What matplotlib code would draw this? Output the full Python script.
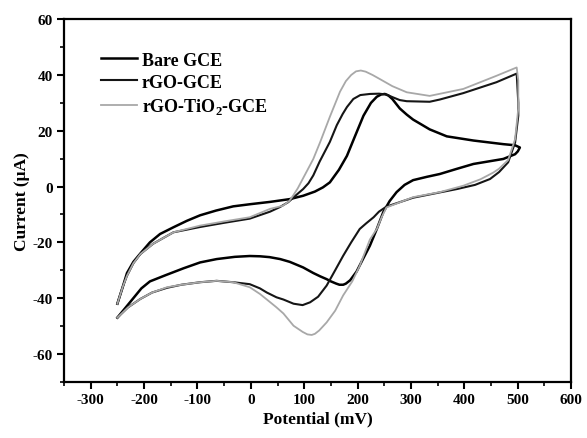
import matplotlib
matplotlib.use("Agg")
import matplotlib.pyplot as plt
import numpy as np
from matplotlib.ticker import MultipleLocator

plt.rcParams['font.family'] = ['Liberation Serif', 'DejaVu Serif']
plt.rcParams['font.weight'] = 'bold'
plt.rcParams['axes.unicode_minus'] = False

# cyclic voltammograms (potential mV, current uA), in scan order
bare_v = [-250, -240, -232, -220, -207, -189, -170, -145, -120, -95, -65, -33, 0, 36, 73, 98,
          120, 135, 148, 165, 180, 195, 211, 225, 236, 244, 251, 258, 265, 279, 292, 304, 320,
          335, 367, 417, 473, 495, 504,
          500, 495, 473, 417, 385, 354, 330, 304, 288, 273, 260, 248, 236, 223, 210, 198, 186,
          178, 173, 166, 160, 150, 142, 130, 117, 98, 73, 55, 35, 17, -2, -30, -64, -95, -126,
          -160, -189, -205, -220, -235, -250]
bare_i = [-42, -36, -31, -27, -24, -20, -17, -14.6, -12.3, -10.3, -8.6, -7.1, -6.3, -5.5,
          -4.5, -3.3, -1.8, -0.3, 1.5, 6, 11, 18, 25.4, 30, 32.2, 33, 33.2, 32.6, 31.4, 28,
          25.8, 24, 22.2, 20.5, 18, 16.5, 15.2, 14.8, 14,
          12.6, 11.6, 9.9, 8.1, 6.3, 4.5, 3.5, 2.3, 0.6, -2, -5.2, -9.2, -15.2, -21.2, -26,
          -30.5, -33.6, -34.8, -35.2, -35.2, -34.8, -34, -33.2, -32.2, -31, -29, -27, -26,
          -25.3, -25, -24.9, -25.2, -26, -27.2, -29.3, -31.8, -34, -36.5, -40, -43.5, -47]

rgo_v = [-250, -240, -232, -220, -207, -183, -145, -95, -50, -2, 36, 55, 70, 80, 90, 98, 108,
         117, 129, 148, 161, 172, 180, 192, 205, 223, 240, 254, 266, 279, 292, 335, 354, 398,
         460, 498,
         501, 501, 495, 482, 465, 448, 420, 386, 354, 304, 254, 240, 230, 216, 204, 188, 173,
         158, 142, 126, 111, 97, 80, 61, 48, 30, 17, -2, -33, -64, -95, -130, -157, -185, -207,
         -230, -250]
rgo_i = [-42, -36, -32, -27.5, -24.2, -20.5, -16.4, -14.5, -13, -11.5, -9, -7.3, -5.6, -3.9,
         -2.2, -0.9, 1.2, 4, 9, 16, 22, 26, 28.5, 31.4, 32.8, 33.2, 33.3, 33, 32, 31, 30.6,
         30.4, 31.2, 33.5, 37.4, 40.5,
         30, 25.4, 15.8, 8.7, 5.2, 2.7, 0.6, -0.9, -2.1, -4, -7.2, -9, -11, -13.2, -15.2, -20,
         -24.8, -30, -35.5, -39.5, -41.5, -42.5, -42, -40.5, -39.7, -38, -36.5, -35, -34.3,
         -33.8, -34.3, -35.2, -36.3, -38, -40.3, -43.3, -47]

tio2_v = [-250, -240, -232, -220, -207, -183, -145, -95, -50, -2, 36, 60, 72, 80, 88, 96,
          106, 117, 130, 148, 167, 178, 188, 197, 206, 215, 228, 242, 265, 292, 335, 398, 460,
          498,
          501, 501, 495, 482, 465, 454, 430, 398, 354, 304, 254, 245, 236, 223, 204, 190, 173,
          158, 142, 128, 120, 114, 106, 97, 80, 61, 48, 30, 17, -2, -33, -64, -95, -130, -157,
          -185, -207, -230, -250]
tio2_i = [-42, -36, -32, -27.5, -24.2, -20.5, -16.4, -14, -12.5, -11, -8, -6.9, -5.2, -3,
          -0.6, 2.3, 5.9, 9.9, 16, 25, 34, 37.8, 40, 41.3, 41.6, 41.2, 40, 38.5, 36, 33.8, 32.5,
          35, 39.7, 42.7,
          38, 28, 17, 9.5, 6.4, 5, 2.6, 0.3, -2, -3.8, -7.5, -11, -15.2, -19, -28.4, -34, -39,
          -44.5, -48.7, -51.6, -52.8, -53.2, -53, -52.1, -49.9, -45.5, -43.3, -40.5, -38.5,
          -36.1, -34.3, -33.8, -34.3, -35.2, -36.1, -38, -40.3, -43.3, -47]

fig = plt.figure(figsize=(5.87, 4.39), dpi=100)
ax = fig.add_axes([0.109, 0.128, 0.864, 0.826])

ax.plot(bare_v, bare_i, color='black', lw=1.8, label='Bare GCE')
ax.plot(rgo_v, rgo_i, color='#151515', lw=1.5, label='rGO-GCE')
ax.plot(tio2_v, tio2_i, color='#a8a8a8', lw=1.3, label=r'rGO-TiO$_\mathregular{2}$-GCE')

ax.set_xlim(-350, 600)
ax.set_ylim(-70, 60)
ax.xaxis.set_major_locator(MultipleLocator(100))
ax.xaxis.set_minor_locator(MultipleLocator(50))
ax.yaxis.set_major_locator(MultipleLocator(20))
ax.yaxis.set_minor_locator(MultipleLocator(10))
ax.tick_params(which='major', direction='out', length=5, width=1.5, labelsize=11, pad=3)
ax.tick_params(which='minor', direction='out', length=3, width=1.2)
for s in ax.spines.values():
    s.set_linewidth(1.6)

ax.set_xlabel('Potential (mV)', fontsize=12.5, fontweight='bold', labelpad=3)
ax.set_ylabel('Current (μA)', fontsize=12.5, fontweight='bold', labelpad=2)

leg = ax.legend(loc='upper left', bbox_to_anchor=(0.04, 0.955), frameon=False,
                prop={'size': 13, 'weight': 'bold'}, handlelength=2.0,
                handletextpad=0.3, labelspacing=0.28)

fig.savefig('out.png', dpi=100)
